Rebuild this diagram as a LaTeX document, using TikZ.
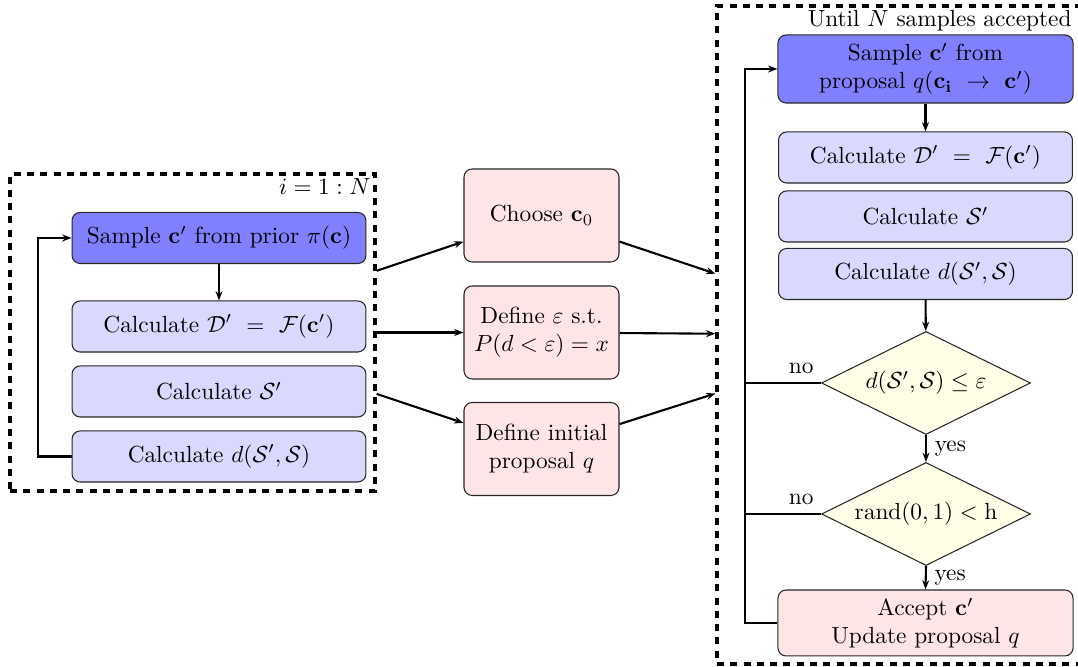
\documentclass[tikz,border=0pt]{standalone}
\usetikzlibrary{shapes.geometric,arrows.meta}
\begin{document}
\begin{tikzpicture}[x=0.429pt,y=-0.429pt,
  box/.style={draw=black!85, line width=0.45pt, rounded corners=3.5pt,
    minimum width=126.1pt, minimum height=21.9pt, inner sep=2pt, align=center},
  prior/.style={box, fill=blue!50},
  calc/.style={box, fill=blue!15},
  setup/.style={box, fill=red!10, minimum width=66.5pt, minimum height=39.9pt},
  accept/.style={box, fill=red!10},
  test/.style={diamond, aspect=2, draw=black!85, line width=0.45pt, fill=yellow!10,
    minimum width=89.7pt, minimum height=44.2pt, inner sep=0pt},
  loopbox/.style={draw, line width=1.35pt, dash pattern=on 3pt off 2.7pt,
    inner sep=0pt, minimum width=156.6pt},
  link/.style={line width=0.9pt, -{Stealth[length=4pt,width=3pt]}},
  wire/.style={line width=0.9pt},
]
\useasboundingbox (0,0) rectangle (1078,667);

% prior sampling loop
\node[loopbox, minimum height=136pt] (priorloop) at (192.5,332.5) {};
\node[anchor=base east, inner sep=0pt] (priorlab) at (371,195) {$i=1:N$};
\node[prior] (L1) at (219,238) {Sample $\mathbf{c}'$ from prior $\pi(\mathbf{c})$};
\node[calc]  (L2) at (219,326.5) {Calculate $\mathcal{D}' \ = \ \mathcal{F}(\mathbf{c}')$};
\node[calc]  (L3) at (219,391.5) {Calculate $\mathcal{S}'$};
\node[calc]  (L4) at (219,456.5) {Calculate $d(\mathcal{S}',\mathcal{S})$};
\coordinate (lret) at (38,0);
\draw[link] (L1) -- (L2);
\draw[link] (L4.west) -- (L4.west -| lret) |- (L1.west);

% set-up steps
\node[setup] (M1) at (541.5,215.5) {Choose $\mathbf{c}_0$};
\node[setup] (M2) at (541.5,332.5) {Define $\varepsilon$ s.t.\\ $P(d<\varepsilon)=x$};
\node[setup] (M3) at (541.5,449) {Define initial\\ proposal $q$};

% MCMC loop
\node[loopbox, minimum height=282.3pt] (mcmcloop) at (899.5,335) {};
\node[anchor=base east, inner sep=0pt] (mcmclab) at (1072,27) {Until $N$ samples accepted};
\node[prior, minimum width=126.6pt, minimum height=29.2pt] (R1) at (925.5,69)
  {Sample $\mathbf{c}'$ from\\ proposal $q(\mathbf{c_i} \ \rightarrow \ \mathbf{c}')$};
\node[calc] (R2) at (925.5,157.5) {Calculate $\mathcal{D}' \ = \ \mathcal{F}(\mathbf{c}')$};
\node[calc] (R3) at (925.5,216.5) {Calculate $\mathcal{S}'$};
\node[calc] (R4) at (925.5,274) {Calculate $d(\mathcal{S}',\mathcal{S})$};
\node[test] (D1) at (926,383) {$d(\mathcal{S}',\mathcal{S}) \leq \varepsilon$};
\node[test] (D2) at (926,514) {$\mathrm{rand}(0,1) < \mathrm{h}$};
\node[accept, minimum width=126.6pt, minimum height=28.3pt] (R5) at (925.5,623)
  {Accept $\mathbf{c}'$\\ Update proposal $q$};
\coordinate (rret) at (745,0);

\draw[link] (R1) -- (R2);
\draw[link] (R4) -- (D1);
\draw[link] (D1.south) -- node[right]{yes} (D2.north);
\draw[link] (D2.south) -- node[right]{yes} (R5.north);
\draw[wire] (D1.west) -- node[above, pos=0.26]{no} (D1.west -| rret);
\draw[wire] (D2.west) -- node[above, pos=0.26]{no} (D2.west -| rret);
\draw[link] (R5.west) -- (R5.west -| rret) |- (R1.west);

% links between stages
\draw[link] (priorloop) -- (M1);
\draw[link] (priorloop) -- (M2);
\draw[link] (priorloop) -- (M3);
\draw[link] (M1) -- (mcmcloop);
\draw[link] (M2) -- (mcmcloop);
\draw[link] (M3) -- (mcmcloop);
\end{tikzpicture}
\end{document}
